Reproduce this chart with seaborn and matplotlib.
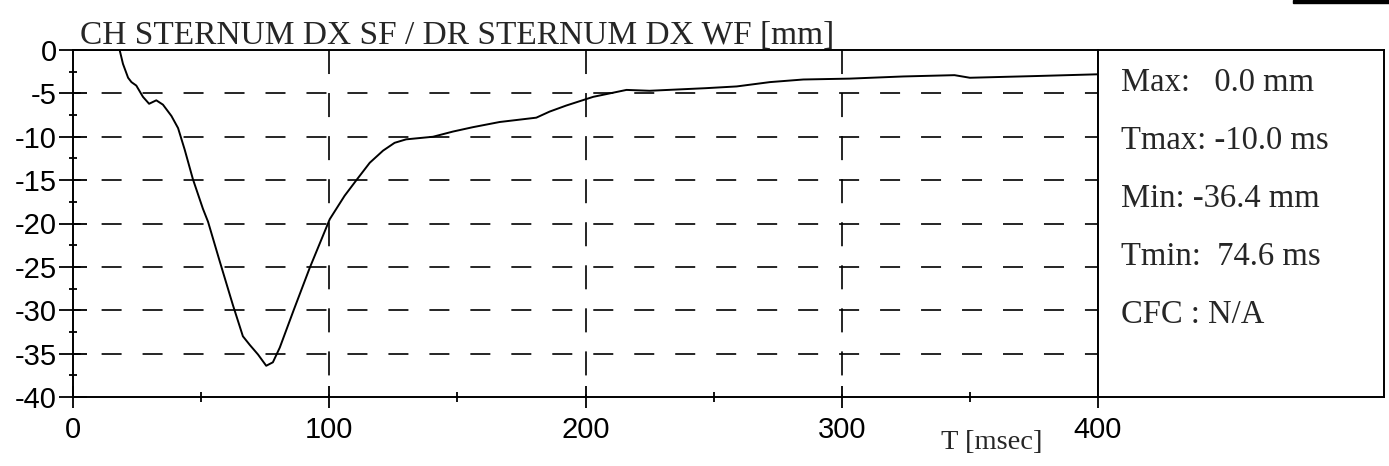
import matplotlib
matplotlib.use("Agg")
import numpy as np
import pandas as pd
import matplotlib.pyplot as plt
import seaborn as sns
from matplotlib.patches import Rectangle

# ----------------------------------
# Daten
# ----------------------------------

time_ms = [0, 10, 18.2, 19.5, 21.5, 22.8, 24.7, 27.3, 29.7, 32.5, 35.1, 38.4, 41.0,
           43.6, 46.8, 50.7, 52.7, 57.2, 62.4, 66.3, 69.0, 72.2, 75.4, 78.0, 80.7,
           86.1, 92.4, 100.2, 106, 110.6, 115.8, 121, 125.5, 130, 140.5, 148.3, 156,
           166.5, 180.8, 186, 192.5, 203, 216, 225, 247, 259, 272, 285, 303, 324,
           344, 350, 376, 400]
disp_mm = [0, 0, 0, -1.6, -3.2, -3.7, -4.1, -5.4, -6.2, -5.8, -6.3, -7.6, -9.0,
           -11.5, -14.9, -18.3, -19.8, -24.3, -29.4, -33.0, -34.0, -35.1, -36.4, -36.0, -34.3,
           -30.0, -25.1, -19.5, -16.8, -15.0, -13.0, -11.6, -10.7, -10.3, -10.0, -9.4, -8.9,
           -8.3, -7.8, -7.1, -6.4, -5.4, -4.6, -4.7, -4.4, -4.2, -3.7, -3.4, -3.3, -3.05,
           -2.9, -3.2, -3.0, -2.8]

x_major = [0, 100, 200, 300, 400]
x_minor = [50, 150, 250, 350]
y_major = [0, -5, -10, -15, -20, -25, -30, -35, -40]
y_minor = [-2.5, -7.5, -12.5, -17.5, -22.5, -27.5, -32.5, -37.5]
grid_y = [-5, -10, -15, -20, -25, -30, -35]
grid_x = [100, 200, 300]

titel = "CH STERNUM DX SF / DR STERNUM DX WF [mm]"
x_label = "T [msec]"
stats = ["Max:   0.0 mm", "Tmax: -10.0 ms", "Min: -36.4 mm", "Tmin:  74.6 ms", "CFC : N/A"]

# ----------------------------------
# Stil
# ----------------------------------

sns.set_style("ticks")
plt.rcParams["font.family"] = ["Liberation Sans", "DejaVu Sans"]
plt.rcParams["axes.unicode_minus"] = False
plt.rcParams["lines.scale_dashes"] = False
plt.rcParams["axes.edgecolor"] = "black"
plt.rcParams["xtick.color"] = "black"
plt.rcParams["ytick.color"] = "black"

W, H = 1389, 466
fig = plt.figure(figsize=(W / 100, H / 100), dpi=100)

def fx(px):
    return px / W

def fy(px):
    return 1 - px / H

top, bottom, left, right, box_right = 50, 397, 73, 1098, 1384
ax = fig.add_axes([fx(left), fy(bottom), fx(right) - fx(left), (bottom - top) / H])

df = pd.DataFrame({"t": time_ms, "d": disp_mm})
sns.lineplot(data=df, x="t", y="d", ax=ax, color="black", linewidth=1.4, zorder=3)

ax.set_xlim(0, 400)
ax.set_ylim(-40, 0)

# gestrichelte Hilfslinien (von rechts nach links, damit Strich am Rand sitzt)
for v in grid_y:
    ax.plot([400, 0], [v, v], color="black", linewidth=1.2, linestyle=(5, (14.4, 15.1)), zorder=1)
for v in grid_x:
    ax.plot([v, v], [0, -40], color="black", linewidth=1.2, linestyle=(0, (17.3, 13.7)), zorder=1)

ax.set_xticks(x_major)
ax.set_xticks(x_minor, minor=True)
ax.set_yticks(y_major)
ax.set_yticks(y_minor, minor=True)
ax.set_yticklabels([str(v) for v in y_major])
ax.set_xticklabels([str(v) for v in x_major])
ax.set_xlabel("")
ax.set_ylabel("")

ax.tick_params(axis="y", which="major", direction="inout", length=20, width=1.3, pad=1.5, labelsize=21)
ax.tick_params(axis="y", which="minor", direction="inout", length=6, width=1.3)
ax.tick_params(axis="x", which="major", direction="inout", length=16, width=1.3, pad=6, labelsize=21)
ax.tick_params(axis="x", which="minor", direction="inout", length=7, width=1.3)

for s in ax.spines.values():
    s.set_linewidth(1.4)
    s.set_color("black")

# Kasten mit Kennwerten
ax2 = fig.add_axes([fx(right), fy(bottom), fx(box_right) - fx(right), (bottom - top) / H])
ax2.set_xticks([])
ax2.set_yticks([])
for s in ax2.spines.values():
    s.set_linewidth(1.4)
    s.set_color("black")

for i, zeile in enumerate(stats):
    ax2.text(0.08, 1 - (41 + 58 * i) / (bottom - top), zeile, transform=ax2.transAxes,
             family="Liberation Serif", fontsize=23.5, va="baseline", ha="left")

fig.text(fx(80), fy(44), titel, family="Liberation Serif", fontsize=24, va="baseline", ha="left")
fig.text(fx(992), fy(449), x_label, family="Liberation Serif", fontsize=20.5, va="baseline", ha="center")

# schwarzer Balken oben rechts (Rest vom Scan)
fig.add_artist(Rectangle((fx(1293), fy(3)), fx(1389) - fx(1293), 3 / H,
                         transform=fig.transFigure, color="black"))

fig.savefig("out.png", dpi=100)
